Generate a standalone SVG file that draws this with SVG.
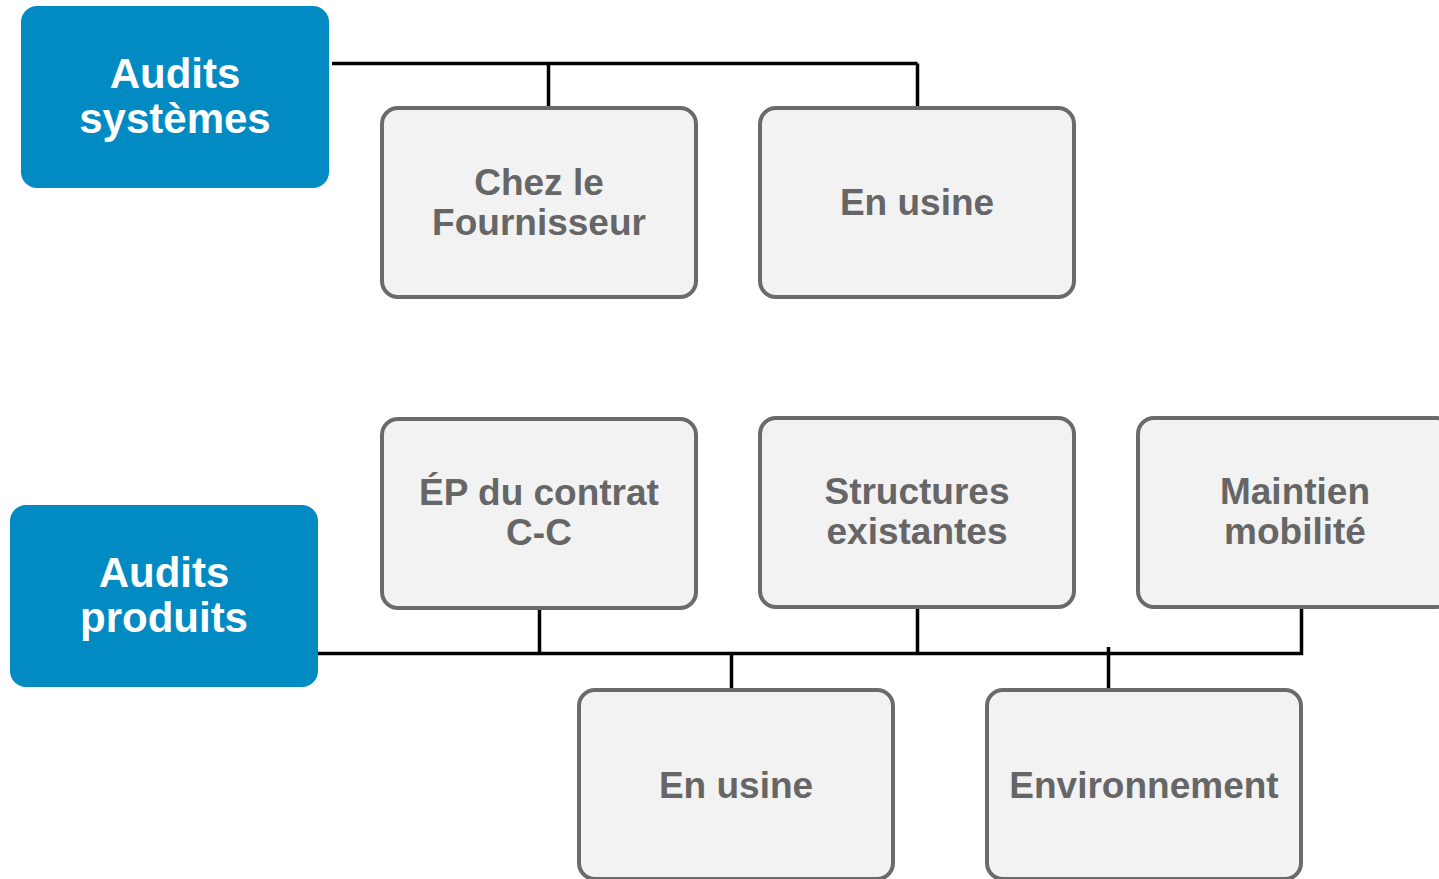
<svg xmlns="http://www.w3.org/2000/svg" width="1439" height="879" viewBox="0 0 1439 879">
<style>
.main{fill:#028BC3;}
.sub{fill:#F2F2F2;stroke:#6A6A6A;stroke-width:4;}
.tw{font-family:"Liberation Sans",Arial,sans-serif;font-weight:bold;font-size:42px;fill:#FFFFFF;text-anchor:middle;}
.tg{font-family:"Liberation Sans",Arial,sans-serif;font-weight:bold;font-size:37px;fill:#666666;text-anchor:middle;}
.cn{stroke:#000000;stroke-width:3.5;fill:none;}
</style>
<rect width="1439" height="879" fill="#FFFFFF"/>
<g id="connectors">
<path class="cn" d="M332,63.5 H917.5 M548.5,63.5 V108 M917.5,63.5 V108"/>
<path class="cn" d="M313,653.5 H1301.5 V607 M539.5,608 V653.5 M917.5,607 V653.5 M731.5,653.5 V700 M1108.5,647 V690"/>
</g>
<g id="audits-systemes">
<rect class="main" x="21" y="6" width="308" height="182" rx="16"/>
<text class="tw" x="175" y="88">Audits</text>
<text class="tw" x="175" y="133">systèmes</text>
</g>
<g id="chez-le-fournisseur">
<rect class="sub" x="382" y="108" width="314" height="189" rx="16"/>
<text class="tg" x="539" y="195">Chez le</text>
<text class="tg" x="539" y="235">Fournisseur</text>
</g>
<g id="en-usine-systemes">
<rect class="sub" x="760" y="108" width="314" height="189" rx="16"/>
<text class="tg" x="917" y="215">En usine</text>
</g>
<g id="audits-produits">
<rect class="main" x="10" y="505" width="308" height="182" rx="16"/>
<text class="tw" x="164" y="587">Audits</text>
<text class="tw" x="164" y="632">produits</text>
</g>
<g id="ep-contrat">
<rect class="sub" x="382" y="419" width="314" height="189" rx="16"/>
<text class="tg" x="539" y="505">ÉP du contrat</text>
<text class="tg" x="539" y="545">C-C</text>
</g>
<g id="structures-existantes">
<rect class="sub" x="760" y="418" width="314" height="189" rx="16"/>
<text class="tg" x="917" y="504">Structures</text>
<text class="tg" x="917" y="544">existantes</text>
</g>
<g id="maintien-mobilite">
<rect class="sub" x="1138" y="418" width="314" height="189" rx="16"/>
<text class="tg" x="1295" y="504">Maintien</text>
<text class="tg" x="1295" y="544">mobilité</text>
</g>
<g id="en-usine-produits">
<rect class="sub" x="579" y="690" width="314" height="189" rx="16"/>
<text class="tg" x="736" y="798">En usine</text>
</g>
<g id="environnement">
<rect class="sub" x="987" y="690" width="314" height="189" rx="16"/>
<text class="tg" x="1144" y="798">Environnement</text>
</g>
</svg>
